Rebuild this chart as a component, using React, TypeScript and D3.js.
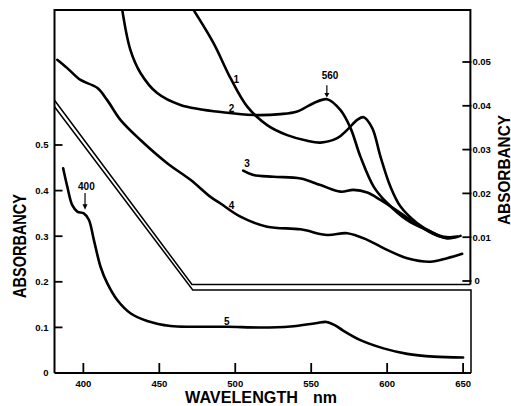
import React from 'react';
import * as d3 from 'd3';

type P = [number, number];

// wavelength (nm) / absorbancy
const wavelengthTicks = [400, 450, 500, 550, 600, 650];
const leftTicks = [0.1, 0.2, 0.3, 0.4, 0.5];
const rightTicks = [0.01, 0.02, 0.03, 0.04, 0.05];

// curves 1-4 read on the right-hand scale
const curve1: P[] = [[472.5,0.0619],[485.7,0.0543],[496.9,0.0463],[507.9,0.0398],[521,0.0356],[534.2,0.0333],[547.4,0.0320],[556.1,0.0316],[567.1,0.0326],[573.7,0.0345],[580.3,0.0368],[584.6,0.0374],[590.2,0.0349],[595.6,0.0284],[602.2,0.0215],[608.8,0.0170],[619.8,0.0132],[630.7,0.0109],[639.5,0.0097],[648.3,0.0103]];
const curve2: P[] = [[425.6,0.0619],[431,0.0527],[437.6,0.0475],[448.6,0.0429],[463.9,0.0402],[494.7,0.0384],[512,0.0379],[529.8,0.0381],[540.8,0.0387],[551.5,0.0406],[560.5,0.0415],[569.3,0.0390],[575.9,0.0349],[582.4,0.0284],[591.2,0.0215],[600,0.0178],[613.2,0.0139],[626.4,0.0116],[637.3,0.0101],[646.1,0.0101]];
const curve3: P[] = [[505.2,0.0252],[512,0.0242],[525.2,0.0238],[543,0.0234],[556.1,0.0219],[569.3,0.0204],[577.8,0.0208],[586.9,0.0202],[595.6,0.0185],[608.8,0.0155],[622,0.0124],[635.1,0.0101],[646.1,0.0101]];
const curve4: P[] = [[382.8,0.0505],[389.4,0.0486],[398.1,0.0459],[409.1,0.0441],[415.7,0.0413],[424.4,0.0368],[437.6,0.0322],[455.2,0.0269],[470.5,0.0231],[483.7,0.0192],[490.3,0.0177],[503.4,0.0147],[521,0.0124],[543,0.0118],[560.5,0.0105],[573.7,0.0109],[586.9,0.0094],[600,0.0071],[613.2,0.0052],[628.5,0.0044],[639.5,0.0052],[649.4,0.0062]];
// curve 5 read on the left-hand scale
const curve5: P[] = [[386.7,0.449],[389.4,0.409],[392.7,0.368],[396,0.354],[400.3,0.350],[403.6,0.336],[406.9,0.292],[411.3,0.233],[415.7,0.197],[422.3,0.160],[431,0.131],[442,0.114],[457.4,0.103],[472.7,0.1015],[494.7,0.1015],[516.6,0.0998],[536.4,0.102],[552.8,0.109],[560,0.112],[566,0.104],[571,0.093],[582.4,0.072],[597.6,0.054],[613.2,0.042],[630.7,0.036],[650,0.034]];

// double frame line separating the two panels (left-scale units)
const frameUpper: P[] = [[381, 0.598], [471.5, 0.194], [654.8, 0.194]];
const frameLower: P[] = [[381, 0.584], [472, 0.182], [655.2, 0.182], [655.2, 0]];

const curveLabels: { t: string; x: number; y: number; axis: 'L' | 'R' }[] = [
  { t: '1', x: 500.7, y: 0.0459, axis: 'R' },
  { t: '2', x: 497.5, y: 0.0394, axis: 'R' },
  { t: '3', x: 507.8, y: 0.0269, axis: 'R' },
  { t: '4', x: 497.5, y: 0.0173, axis: 'R' },
  { t: '5', x: 494.5, y: 0.112, axis: 'L' },
];

export default function App() {
  const W = 511, H = 406;
  const x = d3.scaleLinear().domain([381, 655.2]).range([54.5, 471]);
  const yL = d3.scaleLinear().domain([0, 0.8]).range([373, 8.2]);
  const yR = d3.scaleLinear().domain([0, 0.05]).range([281, 62]);
  const top = 10;
  const left = x(381), rightUp = x(654.8), rightLow = x(655.2), bottom = yL(0);

  const lineR = d3.line<P>().x(d => x(d[0])).y(d => yR(d[1])).curve(d3.curveCatmullRom.alpha(0.5));
  const lineL = d3.line<P>().x(d => x(d[0])).y(d => yL(d[1])).curve(d3.curveCatmullRom.alpha(0.5));
  const lineFrame = d3.line<P>().x(d => x(d[0])).y(d => yL(d[1]));

  const font = "'Liberation Sans', Arial, Helvetica, sans-serif";
  const curveStyle = { fill: 'none', stroke: '#000', strokeWidth: 2.6, strokeLinejoin: 'round' as const, strokeLinecap: 'round' as const };

  return (
    <svg width={W} height={H} style={{ position: 'absolute', left: 0, top: 0, background: '#fff' }} fontFamily={font}>
      <rect width={W} height={H} fill="#fff" />
      <defs>
        <clipPath id="plotclip">
          <rect x={left} y={top} width={rightLow - left} height={bottom - top} />
        </clipPath>
      </defs>

      {/* frame */}
      <path d={`M${left},${bottom}V${top}H${rightUp}V${yL(0.194)}`} fill="none" stroke="#000" strokeWidth={2} />
      <path d={`M${left},${bottom}H${rightLow}`} fill="none" stroke="#000" strokeWidth={2.2} />
      <path d={lineFrame(frameUpper) || ''} fill="none" stroke="#000" strokeWidth={1.5} />
      <path d={lineFrame(frameLower) || ''} fill="none" stroke="#000" strokeWidth={1.5} />

      {/* bottom ticks */}
      {wavelengthTicks.map(t => (
        <g key={'bx' + t}>
          <line x1={x(t)} x2={x(t)} y1={bottom} y2={bottom - 10} stroke="#000" strokeWidth={1.8} />
          <text x={x(t)} y={bottom + 14} fontSize={9.5} fontWeight="bold" textAnchor="middle">{t}</text>
        </g>
      ))}
      {/* left ticks */}
      {leftTicks.map(t => (
        <g key={'yl' + t}>
          <line x1={left} x2={left + 8} y1={yL(t)} y2={yL(t)} stroke="#000" strokeWidth={1.8} />
          <text x={left - 6} y={yL(t)} dy="0.35em" fontSize={9.5} fontWeight="bold" textAnchor="end">{t.toFixed(1)}</text>
        </g>
      ))}
      <text x={left - 6} y={bottom} dy="0.35em" fontSize={9.5} fontWeight="bold" textAnchor="end">0</text>

      {/* right ticks */}
      {[0, ...rightTicks].map(t => (
        <g key={'yr' + t}>
          <line x1={rightUp - 8} x2={rightUp + 1} y1={yR(t)} y2={yR(t)} stroke="#000" strokeWidth={1.8} />
          <text x={rightUp + (t === 0 ? 4 : 2)} y={yR(t)} dy="0.35em" fontSize={9.5} fontWeight="bold">{t === 0 ? '0' : t.toFixed(2)}</text>
        </g>
      ))}

      {/* curves */}
      <g clipPath="url(#plotclip)">
        {[curve1, curve2, curve3, curve4].map((c, i) => (
          <path key={'c' + i} d={lineR(c) || ''} {...curveStyle} />
        ))}
        <path d={lineL(curve5) || ''} {...curveStyle} />
      </g>

      {/* curve numbers */}
      {curveLabels.map(l => (
        <text key={l.t} x={x(l.x)} y={l.axis === 'R' ? yR(l.y) : yL(l.y)} dy="0.35em" fontSize={10} fontWeight="bold" textAnchor="middle">{l.t}</text>
      ))}

      {/* 400 annotation */}
      <text x={x(402)} y={yL(0.41)} dy="0.35em" fontSize={10} fontWeight="bold" textAnchor="middle">400</text>
      <line x1={x(401.1)} x2={x(401.1)} y1={yL(0.395)} y2={yL(0.368)} stroke="#000" strokeWidth={1.2} />
      <path d={`M${x(401.1) - 2.5},${yL(0.37)}L${x(401.1) + 2.5},${yL(0.37)}L${x(401.1)},${yL(0.358)}Z`} fill="#000" />

      {/* 560 annotation */}
      <text x={x(562.4)} y={yR(0.047)} dy="0.35em" fontSize={10} fontWeight="bold" textAnchor="middle">560</text>
      <line x1={x(560.3)} x2={x(560.3)} y1={yR(0.0447)} y2={yR(0.0428)} stroke="#000" strokeWidth={1.2} />
      <path d={`M${x(560.3) - 2.5},${yR(0.0429)}L${x(560.3) + 2.5},${yR(0.0429)}L${x(560.3)},${yR(0.0419)}Z`} fill="#000" />

      {/* axis titles */}
      <text transform={`translate(26,246) rotate(-90)`} fontSize={18} fontWeight={900} textAnchor="middle" textLength={104} lengthAdjust="spacingAndGlyphs">ABSORBANCY</text>
      <text transform={`translate(509.5,170) rotate(-90)`} fontSize={16.5} fontWeight={900} textAnchor="middle" textLength={110} lengthAdjust="spacingAndGlyphs">ABSORBANCY</text>
      <text x={185} y={402.5} fontSize={17} fontWeight={900} textLength={113} lengthAdjust="spacingAndGlyphs">WAVELENGTH</text>
      <text x={313} y={402.5} fontSize={17} fontWeight={900} textLength={24} lengthAdjust="spacingAndGlyphs">nm</text>
    </svg>
  );
}
